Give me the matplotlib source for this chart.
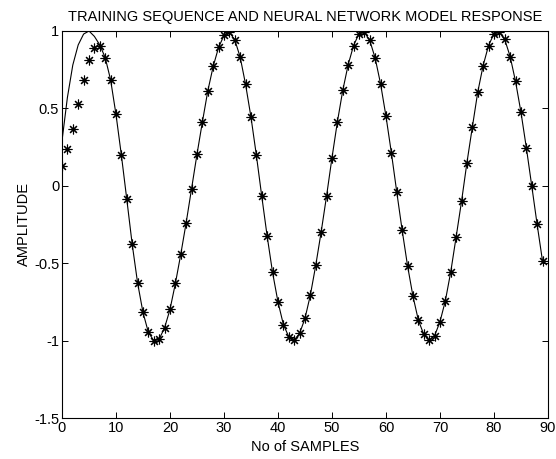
import matplotlib
matplotlib.use("Agg")
from matplotlib import pyplot as plt

plt.rcParams['font.family'] = ['Liberation Sans', 'DejaVu Sans']
plt.rcParams['axes.unicode_minus'] = False

# sample index 0..89
samples = list(range(90))

# network model response (asterisks)
response = [0.128, 0.235, 0.365, 0.528, 0.683, 0.814, 0.89, 0.90, 0.828, 0.685,
            0.461, 0.197, -0.087, -0.377, -0.627, -0.818, -0.947, -1.0, -0.99, -0.917,
            -0.799, -0.631, -0.442, -0.238, -0.018, 0.203, 0.412, 0.612, 0.771, 0.894,
            0.971, 0.992, 0.943, 0.831, 0.655, 0.444, 0.197, -0.068, -0.326, -0.56,
            -0.75, -0.896, -0.975, -0.997, -0.954, -0.857, -0.706, -0.513, -0.298, -0.066,
            0.18, 0.412, 0.616, 0.782, 0.906, 0.982, 0.992, 0.939, 0.825, 0.659,
            0.45, 0.214, -0.04, -0.287, -0.517, -0.713, -0.868, -0.96, -0.997, -0.969,
            -0.879, -0.743, -0.556, -0.33, -0.1, 0.15, 0.379, 0.605, 0.777, 0.906,
            0.982, 0.992, 0.945, 0.835, 0.674, 0.476, 0.246, 0.0, -0.25, -0.487]

# training sequence (solid line): differs only in the first samples
training_start = [0.29, 0.57, 0.78, 0.91, 0.98, 1.0, 0.965, 0.91, 0.828]
training = training_start + response[len(training_start):]

xticks = [0, 10, 20, 30, 40, 50, 60, 70, 80, 90]
yticks = [-1.5, -1, -0.5, 0, 0.5, 1]
ytick_labels = ['-1.5', '-1', '-0.5', '0', '0.5', '1']

fig = plt.figure(figsize=(5.56, 4.59), dpi=100)
ax = fig.add_axes([0.1115, 0.0893, 0.874, 0.8432])

ax.plot(samples, training, color='black', linewidth=0.8)
ax.plot(samples, response, linestyle='none', marker=(8, 2, 0), markersize=7,
        markeredgewidth=0.8, color='black')

ax.set_xlim(0, 90)
ax.set_ylim(-1.5, 1)
ax.set_xticks(xticks)
ax.set_yticks(yticks)
ax.set_yticklabels(ytick_labels)
ax.tick_params(direction='in', top=True, right=True, length=4, width=0.7,
               labelsize=10.5, pad=2)
for s in ax.spines.values():
    s.set_linewidth(0.8)

ax.set_title("TRAINING SEQUENCE AND NEURAL NETWORK MODEL RESPONSE", fontsize=10.5, pad=7.5)
ax.set_xlabel("No of SAMPLES", fontsize=10.5, labelpad=4)
ax.set_ylabel("AMPLITUDE", fontsize=10.5, labelpad=2)

fig.savefig("out.png", dpi=100)
